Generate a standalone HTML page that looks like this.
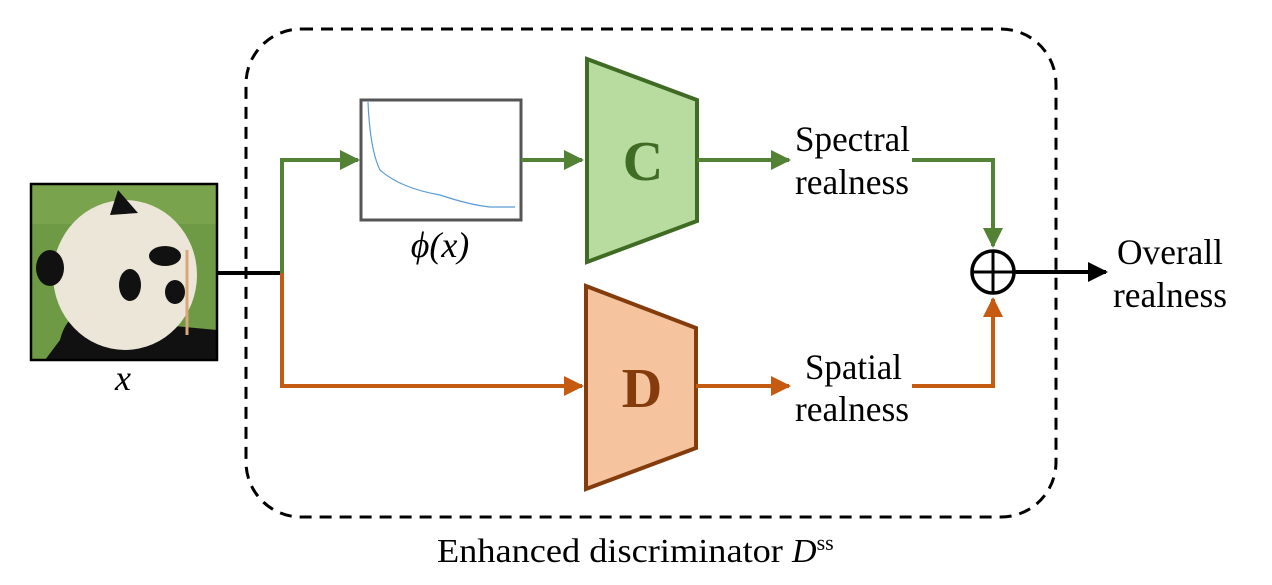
<!DOCTYPE html>
<html><head><style>body{margin:0;background:#fff}svg{display:block}</style></head><body>
<svg width="1272" height="585" viewBox="0 0 1272 585" xmlns="http://www.w3.org/2000/svg" font-family="Liberation Serif, serif">
<defs>
<marker id="ag" viewBox="0 0 10 10" refX="9" refY="5" markerWidth="5" markerHeight="5" orient="auto" markerUnits="strokeWidth"><path d="M0,0L10,5L0,10z" fill="#548235"/></marker>
<marker id="ao" viewBox="0 0 10 10" refX="9" refY="5" markerWidth="5" markerHeight="5" orient="auto" markerUnits="strokeWidth"><path d="M0,0L10,5L0,10z" fill="#c55a11"/></marker>
<marker id="ak" viewBox="0 0 10 10" refX="9" refY="5" markerWidth="5" markerHeight="5" orient="auto" markerUnits="strokeWidth"><path d="M0,0L10,5L0,10z" fill="#000"/></marker>
</defs>
<rect x="246" y="29" width="810" height="488" rx="55" fill="none" stroke="#000" stroke-width="3" stroke-dasharray="12,8"/>
<!-- panda -->
<rect x="31" y="184" width="186" height="176" fill="#6f9a45"/>
<rect x="31" y="184" width="186" height="40" fill="#82aa55" opacity="0.6"/>
<path d="M60,340 Q70,300 110,320 L217,330 L217,360 L45,360 Z" fill="#111"/>
<ellipse cx="125" cy="275" rx="72" ry="75" fill="#ece6d8"/>
<path d="M110,215 L118,190 L138,213 Z" fill="#111"/>
<ellipse cx="50" cy="268" rx="14" ry="18" fill="#111"/>
<ellipse cx="165" cy="256" rx="16" ry="10" fill="#111"/>
<ellipse cx="130" cy="285" rx="11" ry="16" fill="#111"/>
<ellipse cx="175" cy="292" rx="10" ry="12" fill="#111"/>
<line x1="187" y1="250" x2="187" y2="335" stroke="#d9a77a" stroke-width="3"/>
<rect x="31" y="184" width="186" height="176" fill="none" stroke="#000" stroke-width="2.5"/>
<text x="123" y="390" font-size="36" font-style="italic" text-anchor="middle">x</text>
<!-- lines -->
<line x1="217" y1="273" x2="284" y2="273" stroke="#000" stroke-width="4"/>
<polyline points="282,273 282,160 358,160" fill="none" stroke="#548235" stroke-width="4" marker-end="url(#ag)"/>
<polyline points="282,273 282,386 582,386" fill="none" stroke="#c55a11" stroke-width="4" marker-end="url(#ao)"/>
<!-- plot -->
<rect x="361" y="100" width="160" height="120" fill="#fff" stroke="#555" stroke-width="3"/>
<path d="M368,102 Q370,150 380,170 Q400,188 440,195 Q470,205 490,207 L515,207" fill="none" stroke="#5b9bd5" stroke-width="1.2"/>
<text x="440" y="257" font-size="36" font-style="italic" text-anchor="middle">ϕ(x)</text>
<line x1="521" y1="160" x2="582" y2="160" stroke="#548235" stroke-width="4" marker-end="url(#ag)"/>
<!-- C -->
<polygon points="587,59 697,100 697,221 587,262" fill="#b8dba0" stroke="#3f6b25" stroke-width="4"/>
<text x="643" y="180" font-size="56" font-weight="bold" fill="#3f6b25" text-anchor="middle">C</text>
<!-- D -->
<polygon points="586,286 696,328 696,448 586,489" fill="#f5c39e" stroke="#843c0c" stroke-width="4"/>
<text x="642" y="407" font-size="56" font-weight="bold" fill="#843c0c" text-anchor="middle">D</text>
<line x1="697" y1="160" x2="789" y2="160" stroke="#548235" stroke-width="4" marker-end="url(#ag)"/>
<line x1="696" y1="386" x2="789" y2="386" stroke="#c55a11" stroke-width="4" marker-end="url(#ao)"/>
<text font-size="36"><tspan x="795" y="151" textLength="115" lengthAdjust="spacingAndGlyphs">Spectral</tspan><tspan x="795" y="194" textLength="114" lengthAdjust="spacingAndGlyphs">realness</tspan></text>
<text font-size="36"><tspan x="805" y="379" textLength="97" lengthAdjust="spacingAndGlyphs">Spatial</tspan><tspan x="795" y="421" textLength="114" lengthAdjust="spacingAndGlyphs">realness</tspan></text>
<polyline points="912,160 993,160 993,246" fill="none" stroke="#548235" stroke-width="4" marker-end="url(#ag)"/>
<polyline points="912,386 993,386 993,299" fill="none" stroke="#c55a11" stroke-width="4" marker-end="url(#ao)"/>
<circle cx="993" cy="272" r="21" fill="#fff" stroke="#000" stroke-width="3.5"/>
<line x1="993" y1="251" x2="993" y2="293" stroke="#000" stroke-width="3"/>
<line x1="972" y1="272" x2="1014" y2="272" stroke="#000" stroke-width="3"/>
<line x1="1014" y1="272" x2="1106" y2="272" stroke="#000" stroke-width="4" marker-end="url(#ak)"/>
<text font-size="36"><tspan x="1117" y="264" textLength="106" lengthAdjust="spacingAndGlyphs">Overall</tspan><tspan x="1113" y="307" textLength="114" lengthAdjust="spacingAndGlyphs">realness</tspan></text>
<text x="437" y="562" font-size="34"><tspan textLength="355" lengthAdjust="spacingAndGlyphs">Enhanced discriminator </tspan><tspan font-style="italic">D</tspan><tspan font-size="22" dy="-12">ss</tspan></text>
</svg>
</body></html>
